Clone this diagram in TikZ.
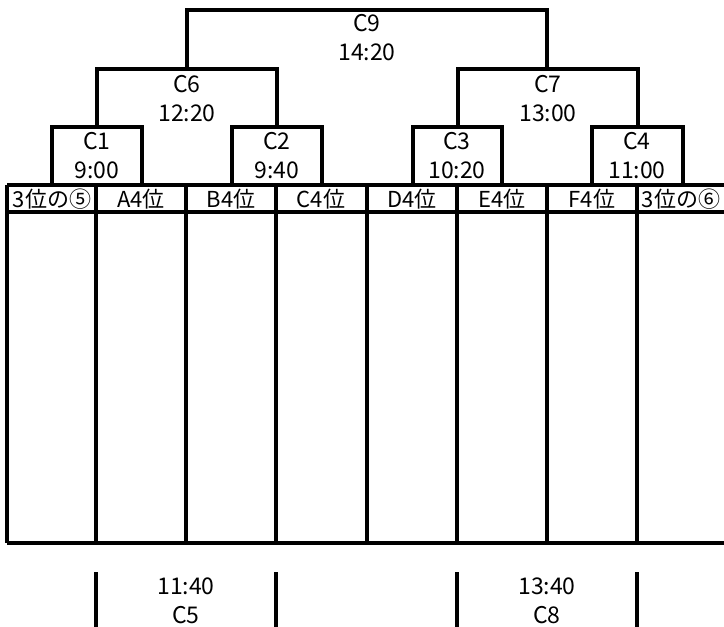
\documentclass[tikz,border=0pt]{standalone}
\usepackage{fontspec}
\setmainfont{Noto Sans CJK JP}
\begin{document}
\begin{tikzpicture}[
    x=1pt, y=-1pt,
    line/.style={line width=3.2pt},
    match/.style={font=\fontsize{23}{29}\selectfont, align=center, inner sep=0pt},
    slot/.style={font=\fontsize{22}{24}\selectfont, inner sep=0pt}
]
\useasboundingbox (0,0) rectangle (724,627);

% table
\draw[line] (7,185) -- (724,185);
\draw[line] (7,212) -- (724,212);
\draw[line] (7,543) -- (724,543);
\foreach \x in {7,96,186,276,367,457,547,637}
    \draw[line] (\x,185) -- (\x,543);

% bracket
\foreach \l/\r/\t/\b in {52/142/127/185, 232/322/127/185, 413/502/127/185,
        592/683/127/185, 97/277/69/127, 458/638/69/127, 187/547/10/69}
    \draw[line] (\l,\b) -- (\l,\t) -- (\r,\t) -- (\r,\b);

% lower ticks
\foreach \x in {96,276,457,637}
    \draw[line] (\x,572) -- (\x,627);

\node[match] (c9) at (367,38) {C9\\14:20};
\node[match] (c6) at (187,99) {C6\\12:20};
\node[match] (c7) at (548,99) {C7\\13:00};
\node[match] (c1) at (97,156) {C1\\9:00};
\node[match] (c2) at (277,156) {C2\\9:40};
\node[match] (c3) at (457,156) {C3\\10:20};
\node[match] (c4) at (637,156) {C4\\11:00};
\node[match] (c5) at (186,601) {11:40\\C5};
\node[match] (c8) at (547,601) {13:40\\C8};

\node[slot] (s1) at (52,199) {3位の⑤};
\node[slot] (s2) at (141,199) {A4位};
\node[slot] (s3) at (231,199) {B4位};
\node[slot] (s4) at (321,199) {C4位};
\node[slot] (s5) at (412,199) {D4位};
\node[slot] (s6) at (502,199) {E4位};
\node[slot] (s7) at (592,199) {F4位};
\node[slot] (s8) at (681,199) {3位の⑥};

\end{tikzpicture}
\end{document}
